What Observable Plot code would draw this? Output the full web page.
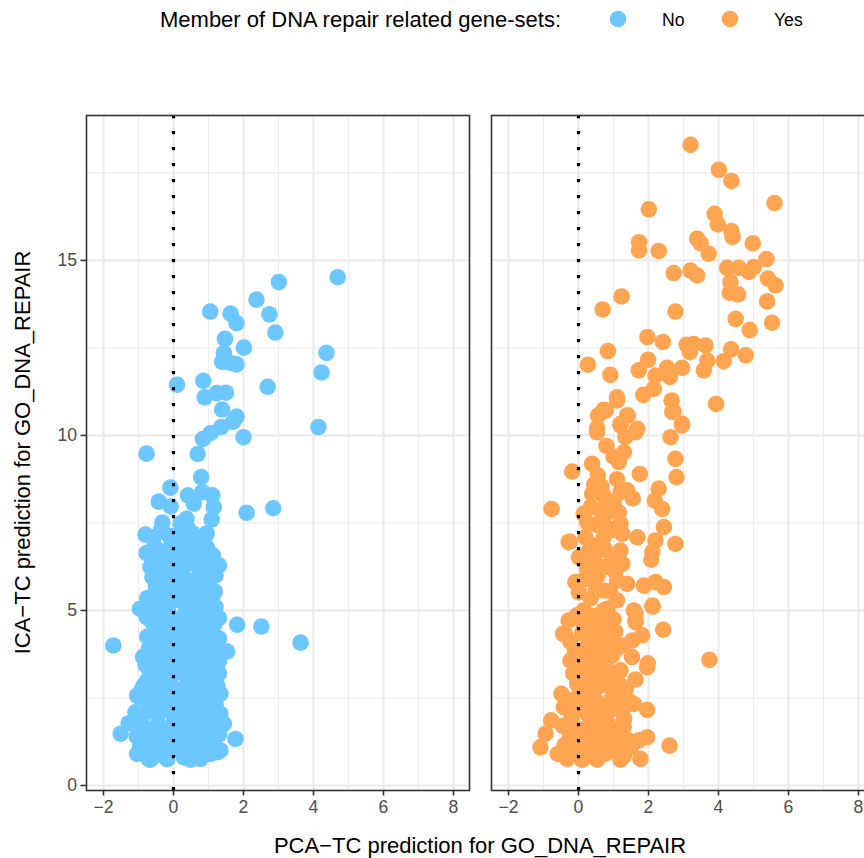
<!DOCTYPE html>
<html><head><meta charset="utf-8">
<script src="https://cdn.jsdelivr.net/npm/d3@7"></script>
<script src="https://cdn.jsdelivr.net/npm/@observablehq/plot@0.6"></script>
<style>
html,body{margin:0;padding:0;overflow:hidden;background:#fff;}
#wrap{position:relative;width:864px;height:858px;overflow:hidden;}
#legend{position:absolute;left:0;top:0;}
#chart{position:absolute;left:0;top:60px;width:900px;}
#chart svg{max-width:none !important;}
svg text{font-family:"Liberation Sans",Arial,Helvetica,sans-serif;}
</style></head><body>
<div id="wrap"><svg id="legend" width="864" height="60"></svg><div id="chart"></div></div>
<script>
const groups = ["No", "Yes"];
const groupColors = ["#6CC6FF", "#FFA552"];
const legendTitle = "Member of DNA repair related gene-sets:";
const xTitle = "PCA\u2212TC prediction for GO_DNA_REPAIR";
const yTitle = "ICA\u2212TC prediction for GO_DNA_REPAIR";
const xTicks = [-2, 0, 2, 4, 6, 8];
const yTicks = [0, 5, 10, 15];
const xMinor = [-1, 1, 3, 5, 7];
const yMinor = [2.5, 7.5, 12.5, 17.5];

// Panel "No" (not member): [PCA-TC, ICA-TC]
const noPoints = [
[4.69,14.52],[3.01,14.38],[2.37,13.88],[1.05,13.54],[1.63,13.48],[1.80,13.21],[2.74,13.46],[2.91,12.94],
[1.47,12.76],[2.01,12.51],[1.44,12.35],[1.39,12.10],[1.63,12.07],[1.80,12.03],[4.37,12.36],[4.23,11.80],
[0.10,11.45],[0.85,11.56],[2.69,11.39],[0.89,11.09],[1.23,11.21],[1.50,11.22],[1.39,10.74],[1.80,10.54],
[1.70,10.39],[1.36,10.24],[1.06,10.07],[0.84,9.90],[2.0,9.95],[4.14,10.24],[-0.77,9.48],[0.69,9.47],
[0.79,8.81],[-0.09,8.51],[-0.42,8.11],[-0.08,7.97],[0.41,8.29],[0.82,8.38],[1.11,8.29],[1.15,7.95],
[1.09,7.60],[2.09,7.79],[2.85,7.92],[0.58,8.05],[0.37,7.62],[-0.32,7.51],[0.2,7.48],[-0.8,7.17],
[-0.58,7.09],[-0.13,7.14],[0.2,7.24],[0.61,7.08],[0.87,6.92],[0.63,6.76],[-0.77,6.64],[1.13,6.57],
[-1.72,4.0],[1.82,4.59],[2.51,4.54],[3.63,4.08],[-1.51,1.48],[1.77,1.33],[1.53,3.83],[1.30,4.78],
[1.18,5.54],[1.30,6.29],[1.10,6.54],[-0.96,5.05],[-1.04,2.57],[-1.28,1.78],[-1.04,0.90],[-0.85,2.86],
[-0.87,3.67],[-0.70,3.33],[-0.66,6.24],[-0.58,5.43],[-0.77,4.81],[-0.51,4.43],[-0.66,4.0],[-1.09,2.09],
[1.34,1.0],[1.44,1.76],[1.34,2.05],[1.34,2.62],[1.2,3.24],[1.06,4.05],[0.87,4.71],[0.77,5.38],
[0.87,6.05],[0.77,6.86],[0.39,6.33],[0.01,6.14],[-0.28,5.95],[0.1,5.67],[0.58,5.86],[0.49,5.19],
[-0.18,5.10],[0.29,4.52],[0.77,4.62],[-0.18,4.24],[0.39,3.95],[-0.18,3.67],[0.77,3.57],[-0.37,3.19],
[0.29,3.19],[0.87,3.0],[-0.47,2.71],[0.2,2.62],[0.77,2.52],[-0.66,2.14],[0.01,2.05],[0.68,2.05],
[1.15,1.67],[-0.85,1.57],[-0.18,1.57],[0.39,1.48],[-0.56,1.09],[0.1,1.09],[0.77,1.09],[-0.66,0.74],
[-0.18,0.75],[0.49,0.74],[0.77,0.76],[1.06,0.9],[-0.63,6.29],[-0.37,6.05],[-0.99,2.54],[-1.18,1.80],
[-0.70,0.75],
[-0.95,1.15],[-0.6,0.8],[-0.4,1.2],[-0.2,0.85],[0.05,1.3],[0.3,0.8],[0.5,1.2],[0.75,0.85],[1.0,1.25],
[1.25,0.95],[-0.75,1.45],[0.2,1.5],
[-1.0,1.9],[-0.7,2.3],[-0.45,1.75],[-0.25,2.2],[0.0,1.8],[0.25,2.35],[0.45,1.7],[0.7,2.25],[0.95,1.85],
[1.2,2.3],[1.3,1.45],[-0.85,2.5],[0.1,2.6],[0.55,2.7],[1.05,2.6],
[-0.75,3.0],[-0.5,2.6],[-0.3,3.3],[-0.05,2.85],[0.2,3.4],[0.4,2.9],[0.65,3.3],[0.9,2.75],[1.1,3.1],
[-0.6,3.45],[1.25,2.85],
[-0.7,3.9],[-0.45,4.3],[-0.2,3.8],[0.05,4.3],[0.3,3.75],[0.55,4.2],[0.8,3.8],[1.0,4.35],[1.2,3.95],
[-0.55,3.6],[0.45,4.45],
[-0.6,4.65],[-0.35,5.2],[-0.1,4.75],[0.15,5.3],[0.4,4.8],[0.65,5.2],[0.9,4.9],[1.1,5.35],[-0.75,5.35],
[0.55,5.5],
[-0.5,5.7],[-0.2,6.3],[0.05,5.85],[0.3,6.25],[0.5,5.75],[0.75,6.2],[1.0,5.8],[-0.45,6.45],[0.6,6.6],
[-0.05,7.0],[0.3,6.9],[0.55,7.2],[0.95,6.8],[-0.35,7.3],[0.1,6.6],
[-0.3,4.5],[-0.25,5.55],[0.55,3.55],[0.0,3.3],[-0.45,2.0],[0.35,2.05],[0.9,1.45],[-0.35,1.55],
[0.6,1.55],[1.0,2.0],[0.15,4.0],[0.6,4.9],[-0.45,4.85],[0.95,3.45],[-0.1,6.55],[0.35,5.55],[0.85,5.15],
[-0.85,0.95],[-0.3,1.0],[0.2,1.0],[0.6,0.95],[1.15,1.15],
[-1.05,1.4],[-0.55,1.35],[-0.1,1.35],[0.35,1.3],[0.8,1.3],[1.1,1.45],
[-0.9,1.75],[-0.6,1.6],[0.2,1.8],[0.7,1.65],[1.2,1.8],
[-0.85,2.05],[-0.05,2.1],[0.5,2.0],[0.85,2.15],[1.25,2.1],
[-0.55,2.45],[-0.15,2.5],[0.35,2.5],[0.8,2.45],[1.2,2.5],
[-0.9,2.75],[-0.25,2.75],[0.3,2.75],[0.65,2.85],[1.0,2.9],
[-0.55,3.1],[-0.1,3.1],[0.45,3.15],[0.75,3.05],[1.3,3.2],
[-0.8,3.45],[-0.4,3.55],[0.1,3.6],[0.35,3.5],[1.05,3.65],[1.3,3.55],
[-0.45,3.95],[0.0,3.95],[0.55,3.9],[0.9,4.05],[1.3,4.2],
[-0.75,4.25],[-0.05,4.5],[0.35,4.25],[0.75,4.3],[1.15,4.55],
[-0.45,4.65],[0.15,4.75],[0.55,4.7],[1.0,4.75],
[-0.75,5.0],[-0.15,5.0],[0.35,5.1],[0.75,5.0],[1.2,5.1],
[-0.45,5.45],[0.0,5.5],[0.7,5.5],[0.95,5.6],
[-0.6,5.95],[-0.05,6.0],[0.3,5.9],[0.8,5.95],[1.2,6.0],
[-0.3,6.5],[0.15,6.35],[0.55,6.35],[0.95,6.4],
[-0.55,6.85],[-0.25,6.7],[0.35,6.65],[0.75,6.95],
[0.4,7.35],[0.95,7.2]
];

// Panel "Yes" (member): [PCA-TC, ICA-TC]
const yesPoints = [
[3.2,18.3],[4.01,17.59],[4.37,17.27],[5.6,16.64],[2.01,16.46],[3.89,16.33],[3.98,16.03],[4.37,15.84],
[4.4,15.67],[4.98,15.49],[1.73,15.52],[1.73,15.29],[2.29,15.27],[3.39,15.62],[3.49,15.49],[3.72,15.19],
[5.37,15.04],[2.72,14.64],[3.2,14.71],[3.39,14.57],[4.25,14.79],[4.58,14.79],[4.87,14.67],[5.01,14.81],
[4.34,14.38],[5.41,14.48],[5.63,14.29],[4.32,14.08],[4.56,14.03],[1.23,13.97],[0.69,13.6],[2.77,13.54],
[5.39,13.83],[4.49,13.33],[5.53,13.22],[4.89,13.01],[1.97,12.81],[2.41,12.67],[3.09,12.59],[3.29,12.61],
[3.63,12.57],[3.18,12.38],[4.36,12.46],[4.78,12.29],[0.84,12.41],[0.27,12.02],[1.99,12.16],[3.68,12.14],
[4.15,12.12],[1.72,11.86],[2.96,11.93],[2.53,11.93],[0.91,11.73],[2.2,11.71],[2.61,11.67],[3.58,11.86],
[2.15,11.33],[1.85,11.16],[1.10,11.09],[2.66,11.0],[2.71,10.69],[3.93,10.9],[0.72,10.73],[0.56,10.57],
[1.41,10.57],[2.96,10.33],[1.2,10.33],[0.53,10.21],[1.68,10.19],
[0.77,10.71],[0.53,10.09],[1.1,11.0],[1.39,10.57],[1.2,10.29],[1.63,10.09],[1.34,9.95],[2.68,10.67],
[2.96,10.29],[2.63,9.95],[1.30,9.52],[1.15,9.24],[2.77,9.33],[2.8,8.81],[0.39,9.19],[0.55,8.86],
[-0.18,8.97],[1.75,8.9],[2.29,8.48],[2.18,8.14],[2.39,7.9],[0.39,8.33],[0.72,8.29],[1.2,8.38],
[1.39,8.43],[1.01,8.1],[-0.77,7.9],[0.15,7.76],[0.63,7.86],[0.25,7.52],[1.2,7.48],[2.44,7.38],
[-0.25,6.97],[0.2,7.09],[0.72,7.09],[1.25,7.19],[1.68,7.09],[2.2,7.0],[2.77,6.9],[2.11,6.67],
[2.08,6.45],[0.01,6.52],[0.49,6.62],[1.2,6.71],[0.25,6.19],[0.72,6.24],[1.25,6.33],[-0.09,5.81],
[0.01,5.52],[0.72,5.57],[1.39,5.76],[1.87,5.71],[2.2,5.81],[2.44,5.67],[2.11,5.14],[1.58,5.0],
[0.82,5.05],[0.06,4.9],[1.1,5.29],
[2.12,5.11],[2.42,4.45],[3.74,3.59],[1.63,4.9],[1.63,4.67],[1.82,4.29],[1.53,4.14],[1.53,3.67],
[1.98,3.49],[1.96,3.38],[1.63,3.03],[1.04,3.86],[0.63,3.71],[1.2,3.29],[0.9,3.24],[0.39,4.19],
[0.68,4.43],[0.82,4.71],[0.72,5.0],[-0.04,4.86],[-0.28,4.71],[-0.39,4.33],[-0.23,4.1],[0.01,3.52],
[0.15,3.24],[-0.04,2.91],[-0.49,2.62],[-0.42,2.24],[0.49,2.76],[1.06,2.62],[1.58,2.33],[1.96,2.16],
[1.29,1.67],[-0.78,1.86],[-0.94,1.48],[-1.09,1.09],[-0.51,0.91],[-0.32,0.76],[0.1,0.74],[0.53,0.74],
[1.2,0.74],[1.77,0.76],[1.72,1.29],[1.96,1.38],[2.6,1.14],[0.25,2.05],[0.72,1.95],[0.06,1.48],
[0.63,1.29],[0.91,1.67],[0.39,3.19],[0.87,4.05],[1.2,2.86],[-0.23,3.57],[-0.59,0.9],[-0.28,6.95],
[-0.44,4.33],[1.63,4.71],
[-0.1,1.1],[0.2,0.8],[0.4,1.2],[0.75,0.9],[0.95,1.25],[1.3,0.85],[1.5,1.1],[-0.25,1.4],[0.15,1.45],
[1.1,1.5],[0.6,1.55],
[-0.2,1.9],[0.1,2.3],[0.35,1.8],[0.55,2.35],[0.8,1.85],[1.05,2.2],[1.3,1.9],[1.45,2.4],[-0.3,2.45],
[0.0,1.6],
[0.05,2.7],[0.3,3.05],[0.65,3.35],[0.8,2.85],[1.35,2.75],[-0.15,3.2],[0.45,2.5],
[0.2,3.9],[0.5,4.45],[0.15,4.6],[1.05,4.4],[0.45,3.55],[1.25,4.0],
[0.35,5.35],[0.2,5.9],[0.9,5.55],[0.55,6.0],[0.95,6.55],[0.45,6.85],[1.0,7.3],[0.75,7.7],[0.5,7.45],
[0.85,8.0],[0.45,8.6],[1.1,8.75],[1.55,8.2],
[0.25,1.1],[0.6,2.05],[1.15,2.5],[-0.05,2.2],[0.3,4.2],[0.95,3.7],[0.35,6.45],[1.05,6.1],[0.15,5.0],
[-0.4,1.15],[0.05,0.9],[0.55,1.05],[1.05,0.95],[1.4,1.3],[-0.45,1.7],[0.25,1.65],[0.75,1.6],[1.2,1.25],
[-0.1,2.45],[0.35,2.6],[0.9,2.4],[1.25,2.15],[0.15,2.95],[0.6,3.0],[1.0,3.05],[0.3,3.55],[0.75,3.85],
[-0.1,3.85],[0.55,4.05],[0.1,4.35],[1.0,4.75],[0.4,4.85],[0.5,5.6],[1.1,5.85],[0.3,6.7],[0.75,6.75],
[0.85,7.35],[0.35,7.95],[1.15,7.8],[0.65,8.55],[1.0,9.4],[0.8,9.7]
];

const data = [
  ...noPoints.map(([x, y]) => ({x, y, g: groups[0]})),
  ...yesPoints.map(([x, y]) => ({x, y, g: groups[1]}))
];

const font = '"Liberation Sans", Arial, Helvetica, sans-serif';
const plot = Plot.plot({
  width: 900, height: 810,
  marginLeft: 86, marginRight: 26, marginTop: 55, marginBottom: 80,
  style: {fontFamily: font, fontSize: "17.6px", background: "white", maxWidth: "none"},
  x: {domain: [-2.486, 8.457], label: null},
  y: {domain: [-0.143, 19.14], label: null},
  fx: {domain: groups, paddingInner: 22 / 405, paddingOuter: 0, axis: null, label: null},
  color: {domain: groups, range: groupColors},
  marks: [
    Plot.gridX(xMinor, {stroke: "#EBEBEB", strokeOpacity: 1, strokeWidth: 1.1}),
    Plot.gridY(yMinor, {stroke: "#EBEBEB", strokeOpacity: 1, strokeWidth: 1.1}),
    Plot.gridX(xTicks, {stroke: "#EBEBEB", strokeOpacity: 1, strokeWidth: 2.2}),
    Plot.gridY(yTicks, {stroke: "#EBEBEB", strokeOpacity: 1, strokeWidth: 2.2}),
    Plot.dot(data, {x: "x", y: "y", fx: "g", fill: "g", r: 8.3, stroke: null}),
    Plot.ruleX([0], {stroke: "black", strokeWidth: 3.2, strokeDasharray: "3.2,12.8"}),
    Plot.frame({stroke: "#333333", strokeWidth: 1.6}),
    Plot.axisX(xTicks, {tickSize: 5.5, tickPadding: 4, stroke: "#333333", strokeWidth: 1.6, fill: "#4D4D4D", label: null}),
    Plot.axisY(yTicks, {tickSize: 5.5, tickPadding: 4, stroke: "#333333", strokeWidth: 1.6, fill: "#4D4D4D", label: null})
  ]
});
plot.style.maxWidth = "none";
document.getElementById("chart").appendChild(plot);

const svg = d3.select(plot);
svg.append("text").attr("x", 480).attr("y", 793).attr("text-anchor", "middle")
  .attr("font-size", 22).attr("fill", "black").style("font-family", font).text(xTitle);
svg.append("text").attr("transform", `translate(30,${452.5 - 60}) rotate(-90)`).attr("text-anchor", "middle")
  .attr("font-size", 22).attr("fill", "black").style("font-family", font).text(yTitle);

// Legend
const lg = d3.select("#legend");
lg.append("text").attr("x", 160).attr("y", 27).attr("font-size", 22).attr("fill", "black")
  .style("font-family", font).text(legendTitle);
const keyX = [618, 730];
groups.forEach((g, i) => {
  lg.append("circle").attr("cx", keyX[i]).attr("cy", 19).attr("r", 8.3).attr("fill", groupColors[i]);
  lg.append("text").attr("x", keyX[i] + 44).attr("y", 25.5).attr("font-size", 17.6).attr("fill", "black")
    .style("font-family", font).text(g);
});
</script></body></html>
